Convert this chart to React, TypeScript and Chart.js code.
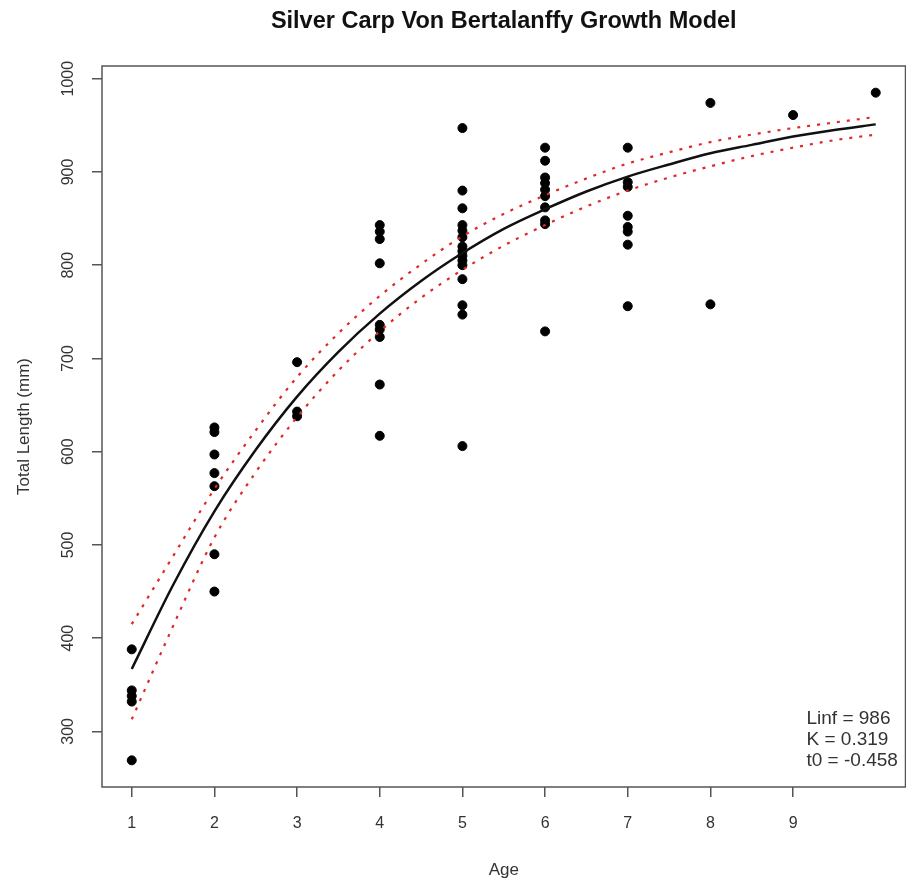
import React, { useEffect, useRef } from "react";
import { Chart, registerables } from "chart.js";

Chart.register(...registerables);

const TITLE = "Silver Carp Von Bertalanffy Growth Model";
const X_LABEL = "Age";
const Y_LABEL = "Total Length (mm)";
const X_TICKS = [1, 2, 3, 4, 5, 6, 7, 8, 9];
const Y_TICKS = [300, 400, 500, 600, 700, 800, 900, 1000];
const X_MIN = 0.64;
const X_MAX = 10.36;
const Y_MIN = 240.4;
const Y_MAX = 1013.6;
const PARAM_LINES = ["Linf = 986", "K = 0.319", "t0 = -0.458"];

// observed lengths by age
const age1 = [388, 344, 338, 332, 269];
const age2 = [626, 621, 597, 577, 563, 490, 450];
const age3 = [696, 643, 638];
const age4 = [843, 836, 828, 802, 736, 731, 723, 672, 617];
const age5 = [947, 880, 861, 843, 837, 830, 820, 815, 810, 805, 800, 785, 757, 747, 606];
const age6 = [926, 912, 894, 888, 881, 874, 862, 848, 844, 729];
const age7 = [926, 889, 884, 853, 841, 836, 822, 756];
const age8 = [974, 758];
const age9 = [961];
const age10 = [985];
const AGES = [1, 2, 3, 4, 5, 6, 7, 8, 9, 10];
const LENGTHS_BY_AGE = [age1, age2, age3, age4, age5, age6, age7, age8, age9, age10];

// fitted curve
const fitAges = [1, 1.5, 2, 2.5, 3, 3.5, 4, 4.5, 5, 5.5, 6, 6.5, 7, 7.5, 8, 8.5, 9, 9.5, 10];
const fitLength = [367, 457, 536, 602, 659, 707, 748, 783, 813, 839, 860, 879, 895, 908, 920, 929, 938, 945, 951];

// confidence band (red dotted), read at the same ages
const upperBand = [415, 488, 560, 623, 680, 727, 767, 801, 831, 855, 875, 893, 909, 921, 932, 940, 947, 953, 959];
const lowerBand = [313, 413, 508, 578, 637, 687, 729, 765, 795, 821, 843, 863, 880, 894, 906, 917, 926, 934, 940];

const FONT = "'Liberation Sans', Arial, sans-serif";

export default function App() {
  const ref = useRef<HTMLCanvasElement | null>(null);

  useEffect(() => {
    document.body.style.margin = "0";
    const canvas = ref.current;
    if (!canvas) return;

    const points: { x: number; y: number }[] = [];
    AGES.forEach((a, i) => LENGTHS_BY_AGE[i].forEach((v) => points.push({ x: a, y: v })));
    const fit = fitAges.map((a, i) => ({ x: a, y: fitLength[i] }));
    const up = fitAges.map((a, i) => ({ x: a, y: upperBand[i] }));
    const lo = fitAges.map((a, i) => ({ x: a, y: lowerBand[i] }));

    const decor = {
      id: "decor",
      afterDraw(chart: any) {
        const { ctx, chartArea } = chart;
        ctx.save();
        ctx.strokeStyle = "#555";
        ctx.lineWidth = 1.5;
        ctx.strokeRect(chartArea.left, chartArea.top, chartArea.right - chartArea.left, chartArea.bottom - chartArea.top);
        ctx.fillStyle = "#111";
        ctx.font = `bold 23.5px ${FONT}`;
        ctx.textAlign = "center";
        ctx.textBaseline = "middle";
        ctx.fillText(TITLE, (chartArea.left + chartArea.right) / 2, 22);
        ctx.font = `19px ${FONT}`;
        ctx.fillStyle = "#333";
        ctx.textAlign = "left";
        PARAM_LINES.forEach((t, i) => {
          ctx.fillText(t, chartArea.right - 99, chartArea.bottom - 68 + i * 21);
        });
        ctx.restore();
      },
    };

    const lineBase = { showLine: true, pointRadius: 0, cubicInterpolationMode: "monotone" };

    const chart = new Chart(canvas, {
      type: "scatter",
      data: {
        datasets: [
          {
            data: points,
            backgroundColor: "#000",
            borderColor: "#000",
            pointRadius: 4.5,
            pointStyle: "circle",
            order: 3,
          },
          { ...lineBase, data: fit, borderColor: "#111", borderWidth: 2.5, order: 1 } as any,
          { ...lineBase, data: up, borderColor: "rgb(225,40,40)", borderWidth: 2.2, borderDash: [3, 7], order: 2 } as any,
          { ...lineBase, data: lo, borderColor: "rgb(225,40,40)", borderWidth: 2.2, borderDash: [3, 7], order: 2 } as any,
        ],
      },
      options: {
        responsive: false,
        animation: false,
        devicePixelRatio: 1,
        layout: { padding: { top: 66, right: 0.5, left: 0, bottom: 0 } },
        plugins: { legend: { display: false }, tooltip: { enabled: false } },
        scales: {
          x: {
            type: "linear",
            min: X_MIN,
            max: X_MAX,
            afterBuildTicks: (s: any) => {
              s.ticks = X_TICKS.map((v) => ({ value: v }));
            },
            afterFit: (s: any) => {
              s.height = 97;
              s.paddingLeft = 0;
              s.paddingRight = 0;
            },
            grid: { display: true, drawOnChartArea: false, drawTicks: true, tickLength: 10, color: "#555", lineWidth: 1.5 },
            border: { display: false },
            ticks: {
              color: "#333",
              font: { family: FONT, size: 16 },
              padding: 17,
              maxRotation: 0,
              minRotation: 0,
              callback: (v: any) => String(v),
            },
            title: { display: true, text: X_LABEL, color: "#333", font: { family: FONT, size: 17 }, padding: { top: 0, bottom: 3 } },
          },
          y: {
            type: "linear",
            min: Y_MIN,
            max: Y_MAX,
            afterBuildTicks: (s: any) => {
              s.ticks = Y_TICKS.map((v) => ({ value: v }));
            },
            afterFit: (s: any) => {
              s.width = 102;
            },
            grid: { display: true, drawOnChartArea: false, drawTicks: true, tickLength: 10, color: "#555", lineWidth: 1.5 },
            border: { display: false },
            ticks: {
              color: "#333",
              font: { family: FONT, size: 16 },
              padding: 6,
              minRotation: 90,
              maxRotation: 90,
              crossAlign: "center",
              callback: (v: any) => String(v),
            },
            title: { display: true, text: Y_LABEL, color: "#333", font: { family: FONT, size: 17 }, padding: { top: 14, bottom: 0 } },
          },
        },
      },
      plugins: [decor],
    });
    return () => chart.destroy();
  }, []);

  return (
    <div style={{ width: 906, height: 884, overflow: "hidden" }}>
      <canvas ref={ref} width={911} height={884} style={{ display: "block" }} />
    </div>
  );
}
